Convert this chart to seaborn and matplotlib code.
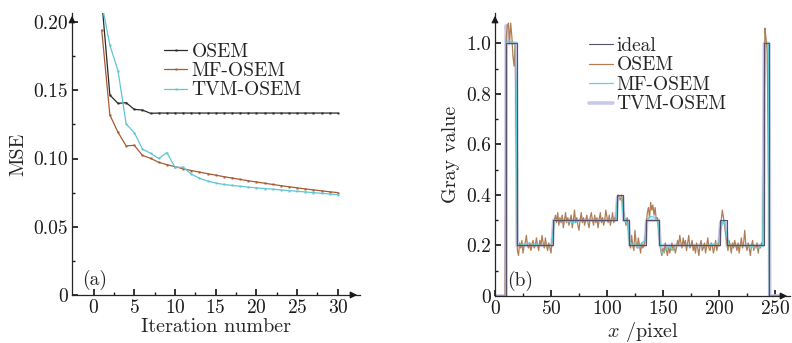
import numpy as np
import pandas as pd
import seaborn as sns
import matplotlib
matplotlib.use("Agg")
import matplotlib.pyplot as plt

# ---- (a) MSE vs iteration ----
iterations = list(range(1, 31))
mse_osem = [0.216, 0.1465, 0.1404, 0.1409, 0.1360, 0.1355, 0.1331, 0.1333, 0.1333, 0.1333,
            0.1333, 0.1333, 0.1333, 0.1333, 0.1333, 0.1333, 0.1333, 0.1333, 0.1333, 0.1333,
            0.1333, 0.1333, 0.1333, 0.1333, 0.1333, 0.1333, 0.1333, 0.1333, 0.1333, 0.1333]
mse_mf = [0.194, 0.1319, 0.1192, 0.1092, 0.1097, 0.1023, 0.1001, 0.0972, 0.0955, 0.0940,
          0.0925, 0.0912, 0.0900, 0.0889, 0.0878, 0.0867, 0.0857, 0.0847, 0.0837, 0.0828,
          0.0819, 0.0810, 0.0801, 0.0793, 0.0785, 0.0777, 0.0770, 0.0763, 0.0756, 0.0750]
mse_tvm = [0.214, 0.1830, 0.1643, 0.1253, 0.1189, 0.1070, 0.1038, 0.1001, 0.1043, 0.0936,
           0.0936, 0.0886, 0.0855, 0.0835, 0.0820, 0.0810, 0.0803, 0.0797, 0.0790, 0.0785,
           0.0780, 0.0775, 0.0770, 0.0765, 0.0760, 0.0755, 0.0750, 0.0745, 0.0740, 0.0735]

# ---- (b) gray value profile ----
ideal_edges = [0, 10, 19.5, 51.5, 108.5, 114.5, 119.5, 134.5, 146.5, 201, 207, 240, 244.5, 256]
ideal_levels = [0, 1.0, 0.2, 0.3, 0.4, 0.3, 0.2, 0.3, 0.2, 0.3, 0.2, 1.0, 0]

osem_gray = ([0.0] * 10 +                                               # 0-9
             [1.02, 1.07, 1.08, 1.00, 1.08, 1.03, 0.95, 0.91, 1.00, 0.62] +  # 10-19
             [0.18, 0.16, 0.21, 0.19, 0.22, 0.17, 0.20, 0.21, 0.24, 0.20,
              0.19, 0.21, 0.18, 0.20, 0.22, 0.19, 0.20, 0.23, 0.20, 0.18,
              0.22, 0.20, 0.24, 0.21, 0.19, 0.23, 0.20, 0.18, 0.21, 0.19,
              0.17, 0.22] +                                             # 20-51
             [0.26, 0.30, 0.32, 0.29, 0.33, 0.28, 0.31, 0.29, 0.32, 0.27,
              0.30, 0.33, 0.29, 0.31, 0.28, 0.30, 0.32, 0.27, 0.30, 0.34,
              0.29, 0.31, 0.28, 0.26, 0.30, 0.33, 0.29, 0.31, 0.28, 0.30,
              0.32, 0.29, 0.27, 0.31, 0.33, 0.30, 0.28, 0.32, 0.29, 0.31,
              0.27, 0.30, 0.33, 0.29, 0.31, 0.28, 0.30, 0.34, 0.31, 0.29,
              0.32, 0.28, 0.30, 0.33, 0.29, 0.31, 0.30] +               # 52-108
             [0.36, 0.40, 0.39, 0.38, 0.40, 0.37] +                     # 109-114
             [0.33, 0.30, 0.28, 0.31, 0.27] +                           # 115-119
             [0.22, 0.19, 0.24, 0.20, 0.18, 0.26, 0.21, 0.19, 0.23, 0.20,
              0.17, 0.21, 0.19, 0.20, 0.22] +                           # 120-134
             [0.28, 0.33, 0.35, 0.31, 0.37, 0.34, 0.36, 0.32, 0.35, 0.30,
              0.31, 0.27] +                                             # 135-146
             [0.22, 0.18, 0.16, 0.19, 0.17, 0.21, 0.18, 0.16, 0.20, 0.17,
              0.19, 0.21, 0.18, 0.20, 0.17, 0.19, 0.22, 0.20, 0.24, 0.21,
              0.19, 0.23, 0.20, 0.22, 0.18, 0.21, 0.24, 0.19, 0.20, 0.22,
              0.18, 0.20, 0.17, 0.21, 0.19, 0.16, 0.20, 0.22, 0.18, 0.19,
              0.21, 0.17, 0.20, 0.23, 0.19, 0.18, 0.21, 0.20, 0.17, 0.19,
              0.22, 0.18, 0.20, 0.21] +                                 # 147-200
             [0.26, 0.30, 0.34, 0.31, 0.28, 0.25] +                     # 201-206
             [0.21, 0.18, 0.22, 0.20, 0.17, 0.21, 0.19, 0.22, 0.20, 0.18,
              0.21, 0.17, 0.20, 0.23, 0.19, 0.21, 0.26, 0.20, 0.18, 0.21,
              0.19, 0.16, 0.20, 0.22, 0.18, 0.20, 0.19, 0.21, 0.17, 0.20,
              0.19, 0.21, 0.20] +                                       # 207-239
             [0.55, 1.06, 1.02, 0.97, 0.60] +                           # 240-244
             [0.0] * 11)                                                # 245-255

mf_x = [0, 9.5, 10, 12, 18, 19, 20, 22, 30, 40, 50, 51, 53, 60, 70, 80, 90, 100, 108,
        109, 110, 113, 114, 116, 119, 120, 122, 125, 128, 131, 134, 135, 137, 140, 143,
        146, 147, 149, 152, 156, 158, 162, 170, 180, 190, 200, 201, 203, 205, 207, 209,
        215, 225, 235, 239, 240, 241, 244, 245, 256]
mf_y = [0, 0, 1.0, 1.01, 1.0, 0.8, 0.2, 0.2, 0.21, 0.2, 0.2, 0.22, 0.3, 0.3, 0.29, 0.3,
        0.3, 0.3, 0.3, 0.36, 0.39, 0.39, 0.34, 0.3, 0.28, 0.22, 0.2, 0.21, 0.19, 0.21,
        0.22, 0.28, 0.31, 0.315, 0.31, 0.29, 0.22, 0.17, 0.18, 0.2, 0.18, 0.2, 0.2, 0.2,
        0.2, 0.21, 0.25, 0.29, 0.29, 0.24, 0.2, 0.2, 0.2, 0.19, 0.2, 0.6, 1.0, 1.0, 0, 0]

tvm_x = [0, 9.8, 10, 12, 19, 19.8, 51, 52.5, 108, 109.5, 114, 115, 119, 120.5, 134,
         135.5, 146, 147.5, 200, 201.5, 206, 207.5, 239.5, 240.5, 244.5, 245.3, 256]
tvm_y = [0, 0, 1.07, 1.0, 1.0, 0.2, 0.2, 0.3, 0.3, 0.39, 0.39, 0.3, 0.3, 0.2, 0.2,
         0.3, 0.3, 0.2, 0.2, 0.29, 0.29, 0.2, 0.2, 1.0, 1.0, 0, 0]

sns.set_theme(style="ticks")
plt.rcParams.update({
    "font.family": ["cmr10", "DejaVu Serif"],
    "mathtext.fontset": "cm",
    "axes.formatter.use_mathtext": True,
    "font.size": 14,
    "axes.labelsize": 14.5,
    "legend.fontsize": 14,
    "axes.linewidth": 0.9,
    "xtick.direction": "in",
    "ytick.direction": "in",
    "xtick.major.size": 4,
    "ytick.major.size": 4,
    "xtick.minor.size": 2.5,
    "ytick.minor.size": 2.5,
    "xtick.labelsize": 14,
    "ytick.labelsize": 14,
})

fig = plt.figure(figsize=(7.92, 3.43), dpi=100)
ax1 = fig.add_axes([72 / 792, 48 / 343, 288 / 792, 282 / 343])
ax2 = fig.add_axes([495 / 792, 47 / 343, 295 / 792, 283 / 343])

# left panel
sns.lineplot(x=iterations, y=mse_osem, ax=ax1, color="#2a2a2a", lw=0.9, marker="s",
             ms=2, mec="none", label="OSEM", estimator=None)
sns.lineplot(x=iterations, y=mse_mf, ax=ax1, color="#a65b34", lw=0.9, marker="s",
             ms=2, mec="none", label="MF-OSEM", estimator=None)
sns.lineplot(x=iterations, y=mse_tvm, ax=ax1, color="#5ec6d6", lw=0.9, marker="s",
             ms=2, mec="none", label="TVM-OSEM", estimator=None)
ax1.set_xlim(-2.65, 32.72)
ax1.set_ylim(0, 0.2066)
ax1.set_xticks(range(0, 31, 5))
ax1.set_xticks(np.arange(2.5, 31, 5), minor=True)
ax1.set_yticks([0, 0.05, 0.10, 0.15, 0.20], ["0", "0.05", "0.10", "0.15", "0.20"])
ax1.set_yticks([0.025, 0.075, 0.125, 0.175], minor=True)
ax1.set_xlabel("Iteration number", labelpad=1)
ax1.set_ylabel("MSE", labelpad=4)
ax1.legend(loc="upper left", bbox_to_anchor=(0.32, 0.895), frameon=False,
           handlelength=1.2, handletextpad=0.2, labelspacing=0.08, borderaxespad=0,
           borderpad=0)
ax1.text(0.035, 0.035, "(a)", transform=ax1.transAxes, fontsize=14)

# right panel
pixel = np.arange(len(osem_gray))
ideal_df = pd.DataFrame({"x": ideal_edges, "y": ideal_levels + [ideal_levels[-1]]})
sns.lineplot(x=tvm_x, y=tvm_y, ax=ax2, color="#c9c8ee", lw=2.6, label="TVM-OSEM",
             estimator=None, sort=False)
sns.lineplot(x=pixel, y=osem_gray, ax=ax2, color="#b07d55", lw=0.9, label="OSEM",
             estimator=None)
sns.lineplot(x=mf_x, y=mf_y, ax=ax2, color="#5fd2dc", lw=0.9, label="MF-OSEM",
             estimator=None, sort=False)
sns.lineplot(data=ideal_df, x="x", y="y", ax=ax2, color="#55516a", lw=0.8,
             drawstyle="steps-post", label="ideal", estimator=None, sort=False)
ax2.set_xlim(0, 263.4)
ax2.set_ylim(0, 1.12)
ax2.set_xticks(range(0, 251, 50))
ax2.set_xticks(np.arange(25, 251, 50), minor=True)
ax2.set_yticks([0, 0.2, 0.4, 0.6, 0.8, 1.0], ["0", "0.2", "0.4", "0.6", "0.8", "1.0"])
ax2.set_yticks(np.arange(0.1, 1.1, 0.2), minor=True)
ax2.set_xlabel(r"$x$ /pixel", labelpad=1)
ax2.set_ylabel("Gray value", labelpad=4)
h, l = ax2.get_legend_handles_labels()
order = [l.index(n) for n in ["ideal", "OSEM", "MF-OSEM", "TVM-OSEM"]]
ax2.legend([h[i] for i in order], [l[i] for i in order], loc="upper left",
           bbox_to_anchor=(0.32, 0.915), frameon=False, handlelength=1.2,
           handletextpad=0.2, labelspacing=0.08, borderaxespad=0, borderpad=0)
ax2.text(0.04, 0.035, "(b)", transform=ax2.transAxes, fontsize=14)

for ax in (ax1, ax2):
    sns.despine(ax=ax)
    ax.tick_params(which="both", top=False, right=False, pad=3, colors="k")
    ax.annotate("", xy=(1.0, 0), xytext=(0.96, 0), xycoords="axes fraction",
                arrowprops=dict(arrowstyle="-|>", color="k", lw=0.9, mutation_scale=10))
    ax.annotate("", xy=(0, 1.0), xytext=(0, 0.96), xycoords="axes fraction",
                arrowprops=dict(arrowstyle="-|>", color="k", lw=0.9, mutation_scale=10))

fig.savefig("out.png", dpi=100)
